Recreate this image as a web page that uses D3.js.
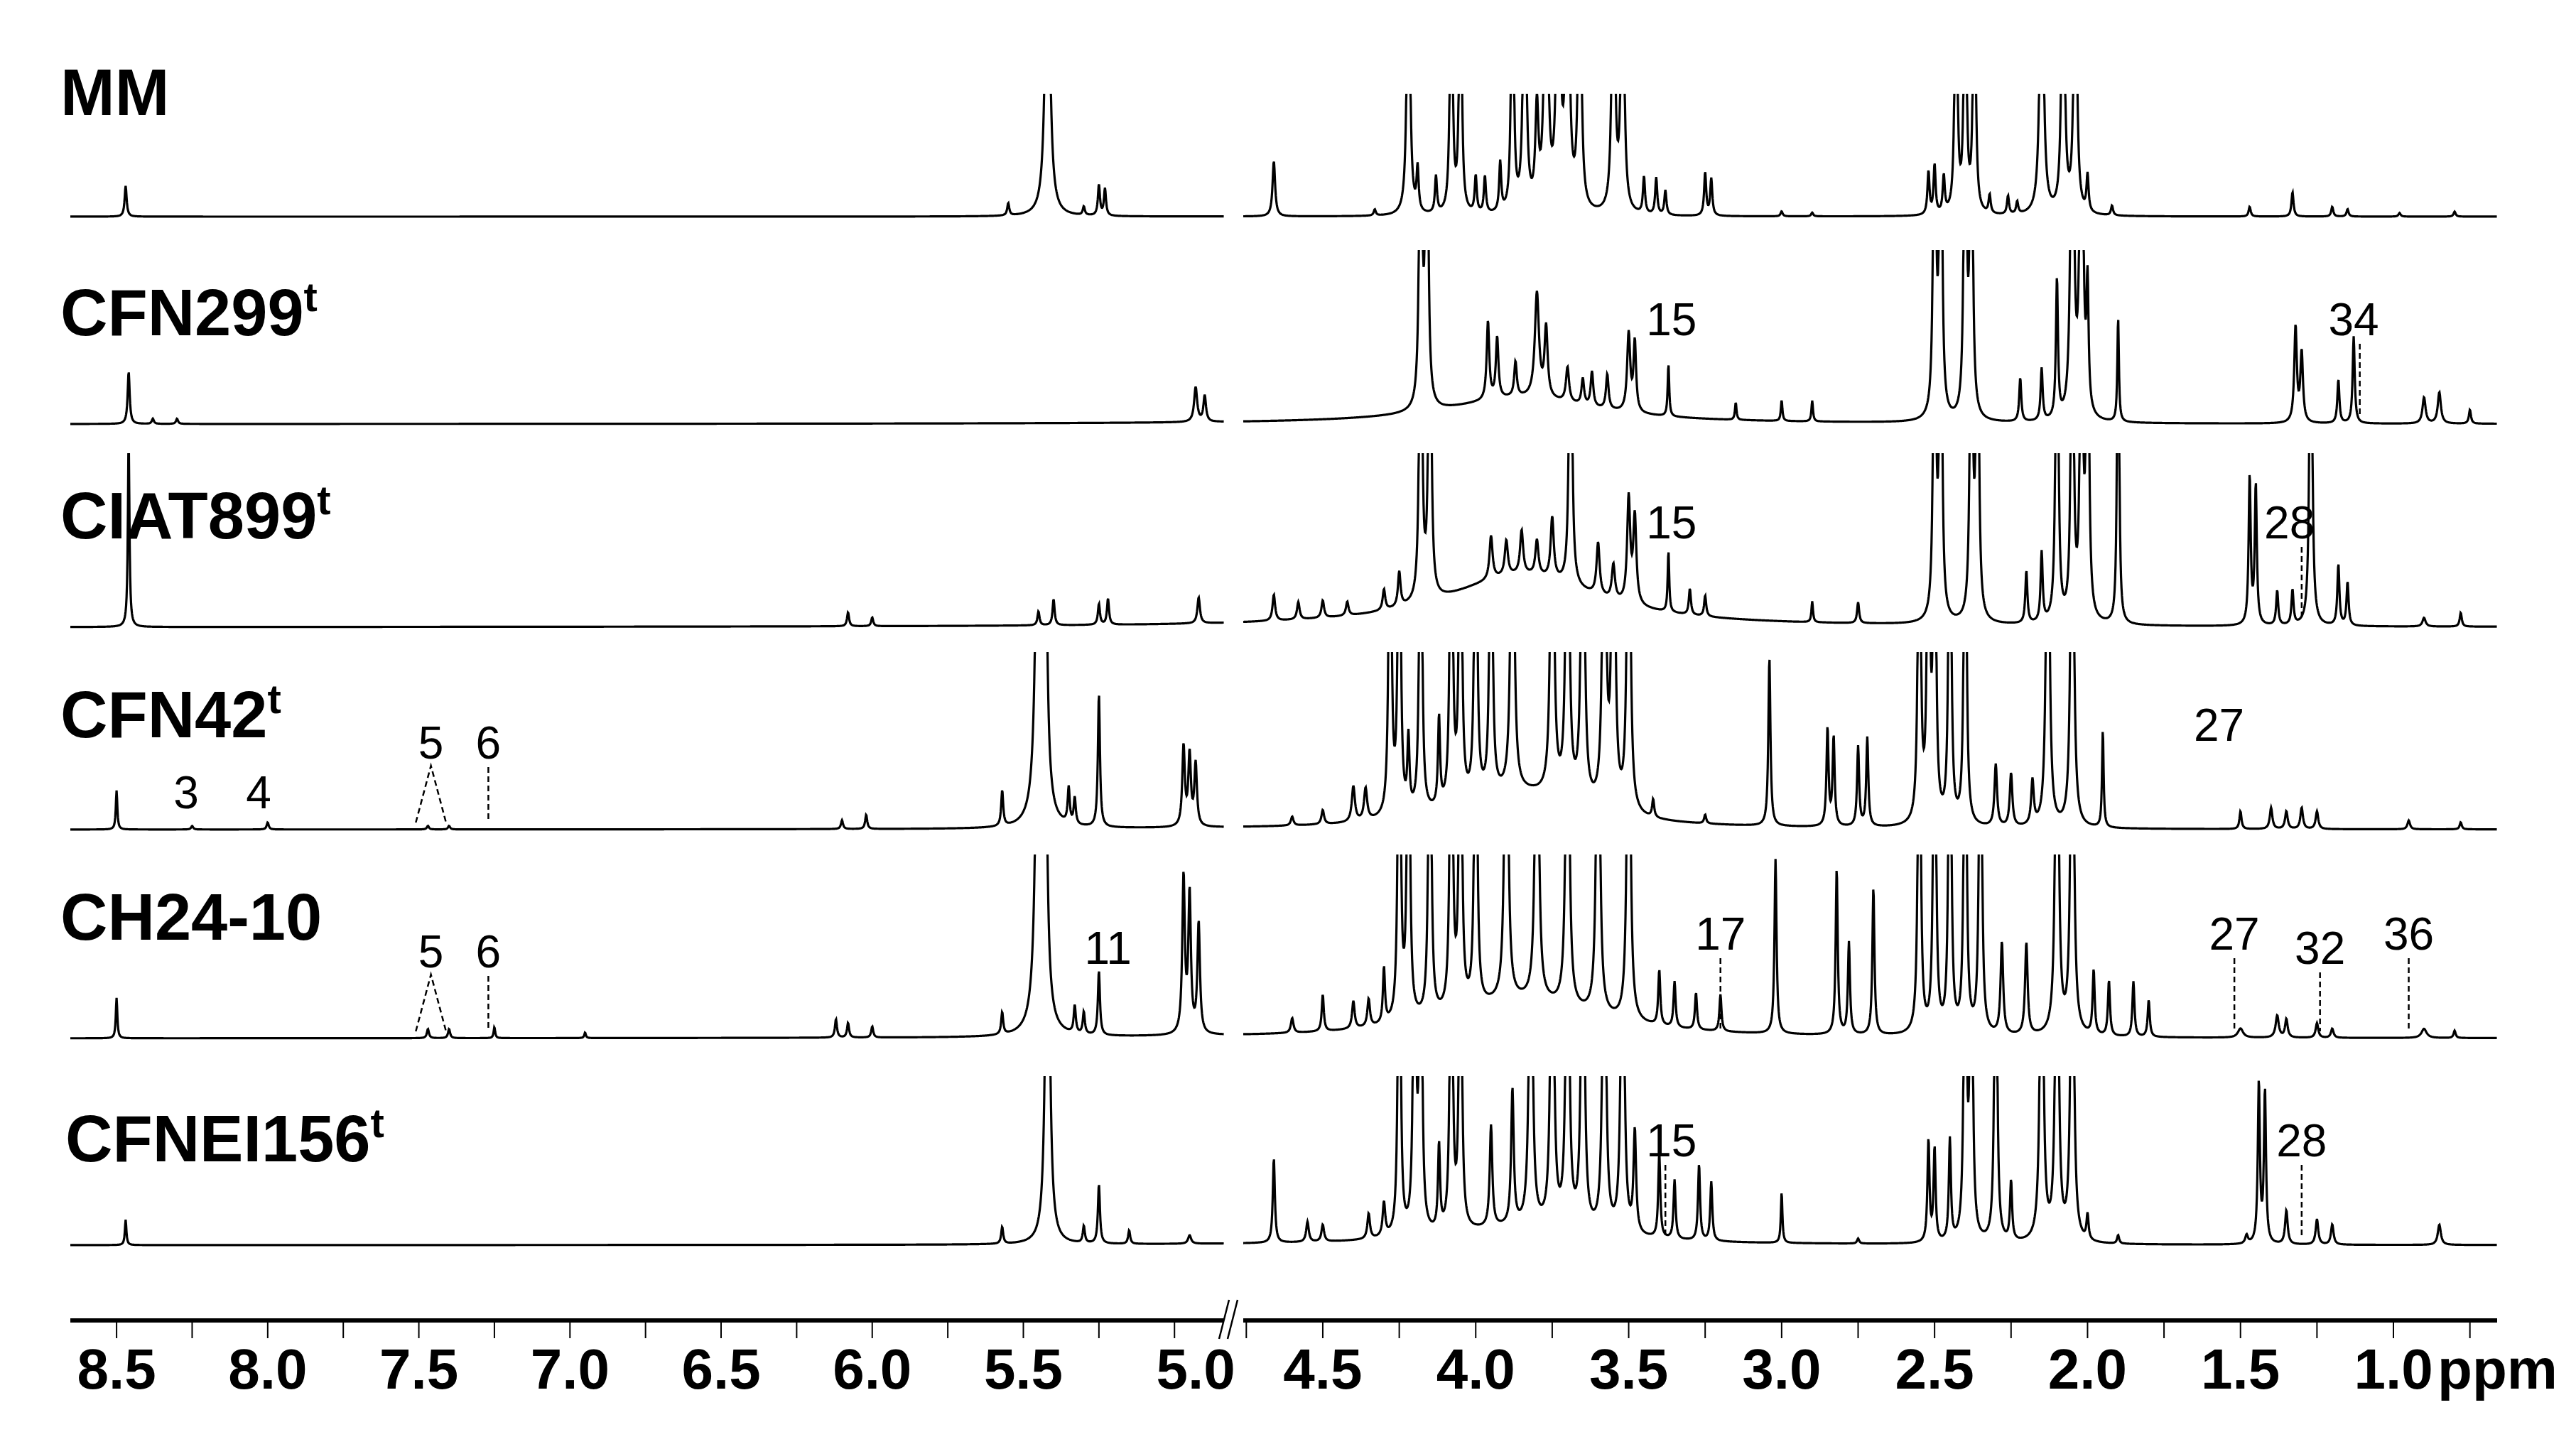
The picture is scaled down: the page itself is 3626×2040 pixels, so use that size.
<!DOCTYPE html><html><head><meta charset="utf-8">
<script src="https://cdn.jsdelivr.net/npm/d3@7"></script>
<style>body{margin:0;background:#fff}</style></head><body>
<svg id="c" width="3626" height="2040"></svg>
<script>
// ---- data ----
const samples = ["MM","CFN299","CIAT899","CFN42","CH24-10","CFNEI156"];
const superT = [false,true,true,true,false,true];
const tickLabels = ["8.5","8.0","7.5","7.0","6.5","6.0","5.5","5.0","4.5","4.0","3.5","3.0","2.5","2.0","1.5","1.0"];
// peaks: [ppm, height (1 = full row height, >1 clipped), half-width ppm]
const peaksMM = [[8.47,.25,.004],[5.55,.1,.004],[5.42,3,.008],[5.30,.07,.004],[5.25,.25,.004],[5.23,.22,.004],
 [4.66,.45,.005],[4.33,.05,.004],[4.22,3,.005],[4.19,.35,.004],[4.13,.3,.004],[4.08,3,.004],[4.05,3,.004],[4.0,.3,.004],[3.97,.3,.004],[3.92,.4,.004],
 [3.88,3,.004],[3.84,3,.005],[3.80,.8,.006],[3.77,3,.006],[3.73,3,.006],[3.70,3,.006],[3.66,3,.005],[3.55,3,.005],[3.52,3,.005],
 [3.45,.3,.004],[3.41,.3,.004],[3.38,.2,.004],[3.25,.35,.004],[3.23,.3,.004],[3.0,.04,.004],[2.90,.03,.004],
 [2.52,.35,.004],[2.50,.4,.004],[2.47,.3,.004],[2.43,3,.004],[2.40,3,.004],[2.37,3,.004],[2.32,.15,.004],[2.26,.15,.004],[2.23,.1,.004],
 [2.15,3,.006],[2.08,3,.005],[2.04,3,.005],[2.0,.3,.004],[1.92,.08,.004],[1.47,.08,.004],[1.33,.2,.004],[1.2,.08,.004],[1.15,.06,.004],[0.98,.03,.004],[0.80,.04,.004]];
const peaksCFN299 = [[8.46,.3,.004],[8.38,.03,.004],[8.3,.03,.004],[4.93,.2,.006],[4.90,.15,.005],
 [3.85,.15,.3],[4.18,3,.004],[4.16,3,.004],[3.96,.45,.005],[3.93,.35,.005],[3.87,.2,.005],[3.80,.6,.008],[3.77,.4,.006],[3.70,.2,.006],[3.65,.15,.005],[3.62,.2,.005],[3.57,.2,.005],
 [3.50,.45,.006],[3.48,.4,.005],[3.37,.3,.003],[3.15,.1,.003],[3.0,.12,.003],[2.90,.12,.003],
 [2.50,3,.004],[2.48,3,.004],[2.40,3,.004],[2.38,3,.004],[2.22,.25,.004],[2.15,.3,.004],[2.10,.8,.004],[2.05,3,.005],[2.02,3,.005],[2.0,.7,.004],[1.90,.6,.003],
 [1.32,.55,.005],[1.30,.4,.005],[1.18,.25,.004],[1.13,.5,.004],[0.90,.15,.006],[0.85,.18,.006],[0.75,.08,.004]];
const peaksCIAT899 = [[8.46,1.1,.003],[6.08,.08,.004],[6.0,.05,.004],[5.45,.08,.004],[5.40,.15,.004],[5.25,.12,.004],[5.22,.15,.004],[4.92,.15,.005],
 [3.85,.3,.3],[4.66,.15,.005],[4.58,.1,.005],[4.50,.1,.005],[4.42,.08,.005],[4.30,.12,.005],[4.25,.2,.005],[4.18,3,.004],[4.15,3,.004],
 [3.95,.25,.006],[3.90,.2,.006],[3.85,.25,.006],[3.80,.2,.006],[3.75,.35,.006],[3.69,3,.004],[3.60,.3,.006],[3.55,.2,.006],[3.50,.6,.006],[3.48,.5,.006],
 [3.37,.35,.003],[3.30,.15,.004],[3.25,.12,.004],[2.90,.12,.003],[2.75,.12,.004],
 [2.50,3,.004],[2.48,3,.004],[2.38,3,.004],[2.36,3,.004],[2.20,.3,.004],[2.15,.4,.004],[2.10,3,.004],[2.05,3,.004],[2.02,3,.004],[2.0,3,.004],[1.90,3,.003],
 [1.47,.85,.004],[1.45,.8,.004],[1.38,.2,.004],[1.33,.2,.004],[1.27,3,.004],[1.18,.35,.004],[1.15,.25,.004],[0.90,.05,.006],[0.78,.08,.004]];
const peaksCFN42 = [[8.50,.22,.003],[8.25,.02,.004],[8.0,.04,.004],[7.47,.02,.004],[7.40,.02,.004],[6.10,.05,.004],[6.02,.08,.004],
 [5.57,.2,.004],[5.45,3,.008],[5.43,3,.006],[5.35,.2,.004],[5.33,.15,.004],[5.25,.75,.004],[4.97,.45,.005],[4.95,.4,.005],[4.93,.35,.005],
 [3.85,.2,.25],[4.60,.05,.005],[4.50,.08,.005],[4.40,.2,.006],[4.36,.18,.006],[4.28,3,.004],[4.25,3,.004],[4.22,.4,.004],[4.18,3,.004],[4.12,.5,.004],[4.08,3,.004],[4.05,3,.004],
 [4.0,3,.004],[3.95,3,.004],[3.88,3,.005],[3.75,3,.005],[3.70,3,.005],[3.65,3,.005],[3.58,3,.005],[3.55,3,.005],[3.50,3,.005],[3.42,.1,.004],[3.25,.05,.004],
 [3.04,.95,.004],[2.85,.55,.004],[2.83,.5,.004],[2.75,.45,.004],[2.72,.5,.004],[2.55,3,.004],[2.52,3,.004],[2.50,3,.004],[2.45,3,.004],[2.40,3,.004],
 [2.30,.35,.005],[2.25,.3,.005],[2.18,.25,.005],[2.13,3,.005],[2.05,3,.005],[1.95,.55,.003],[1.50,.1,.004],[1.40,.12,.005],[1.35,.1,.005],[1.30,.12,.005],[1.25,.1,.005],[0.95,.05,.005],[0.78,.04,.004]];
const peaksCH24 = [[8.50,.22,.003],[7.47,.05,.004],[7.40,.05,.004],[7.25,.06,.003],[6.95,.03,.003],[6.12,.1,.004],[6.08,.08,.004],[6.0,.06,.004],
 [5.57,.12,.004],[5.45,3,.008],[5.43,3,.006],[5.33,.15,.004],[5.30,.12,.004],[5.25,.35,.004],[4.97,.85,.005],[4.95,.75,.005],[4.92,.6,.005],
 [3.85,.2,.3],[4.60,.08,.005],[4.50,.2,.004],[4.40,.15,.005],[4.35,.15,.005],[4.30,.3,.004],[4.25,3,.004],[4.22,3,.004],[4.15,3,.004],[4.08,3,.004],[4.05,3,.004],[4.0,3,.004],
 [3.90,3,.005],[3.80,3,.005],[3.70,3,.005],[3.60,3,.005],[3.50,3,.005],[3.40,.3,.004],[3.35,.25,.004],[3.28,.2,.004],[3.20,.2,.004],
 [3.02,.95,.004],[2.82,.9,.004],[2.78,.5,.004],[2.70,.8,.004],[2.55,3,.004],[2.50,3,.004],[2.45,3,.004],[2.40,3,.004],[2.35,3,.004],[2.28,.5,.005],[2.20,.5,.005],
 [2.10,3,.005],[2.05,3,.005],[1.98,.35,.004],[1.93,.3,.004],[1.85,.3,.004],[1.80,.2,.004],[1.50,.05,.01],[1.38,.12,.006],[1.35,.1,.005],[1.25,.08,.005],[1.20,.05,.005],[0.90,.05,.01],[0.80,.04,.004]];
const peaksCFNEI = [[8.47,.15,.003],[5.57,.1,.004],[5.42,3,.007],[5.30,.1,.004],[5.25,.35,.004],[5.15,.08,.004],[4.95,.05,.006],
 [3.85,.1,.3],[4.66,.5,.004],[4.55,.12,.005],[4.50,.1,.005],[4.35,.15,.005],[4.30,.2,.005],[4.25,3,.004],[4.20,3,.004],[4.18,3,.004],[4.12,.5,.004],[4.08,3,.004],[4.05,3,.004],
 [3.95,.6,.005],[3.88,.8,.005],[3.82,3,.005],[3.75,3,.005],[3.70,3,.005],[3.65,3,.005],[3.58,3,.005],[3.52,3,.005],[3.48,.6,.005],[3.40,.5,.004],[3.35,.35,.004],
 [3.27,.45,.004],[3.23,.35,.004],[3.0,.3,.003],[2.75,.03,.004],[2.52,.6,.004],[2.50,.55,.004],[2.45,.6,.004],[2.40,3,.004],[2.38,3,.004],[2.30,3,.004],[2.25,.35,.004],
 [2.15,3,.005],[2.10,3,.005],[2.05,3,.005],[2.0,.15,.004],[1.90,.05,.004],[1.48,.05,.005],[1.44,.95,.004],[1.42,.9,.004],[1.35,.2,.005],[1.25,.15,.005],[1.20,.12,.005],[0.85,.12,.006]];
const allPeaks = [peaksMM,peaksCFN299,peaksCIAT899,peaksCFN42,peaksCH24,peaksCFNEI];
// annotations: [row, label, ppm of label, ppm of dashed line or null]
const annotations = [[1,"15",3.36,null],[1,"34",1.13,1.11],[2,"15",3.36,null],[2,"28",1.34,1.30],
 [3,"3",8.27,null],[3,"4",8.03,null],[3,"5",7.46,"V"],[3,"6",7.27,7.27],[3,"27",1.57,null],
 [4,"5",7.46,"V"],[4,"6",7.27,7.27],[4,"11",5.22,null],[4,"17",3.20,3.20],[4,"27",1.52,1.52],[4,"32",1.24,1.24],[4,"36",0.95,0.95],
 [5,"15",3.36,3.38],[5,"28",1.30,1.30]];

// ---- layout ----
const svg = d3.select("#c");
const xL = d3.scaleLinear().domain([8.653,4.836]).range([99,1723]);
const xR = d3.scaleLinear().domain([4.76,0.661]).range([1750,3515]);
const bases = [305,597,883,1168,1462,1753], tops=[132,352,638,918,1203,1515];
const cond = "'Liberation Sans Narrow','Arial Narrow','Liberation Sans',sans-serif";

samples.forEach((name,i)=>{
  const H = bases[i]-tops[i];
  const y = d3.scaleLinear().domain([0,1]).range([bases[i],tops[i]]);
  svg.append("clipPath").attr("id","cl"+i).append("rect").attr("x",0).attr("y",tops[i]).attr("width",3626).attr("height",H+20);
  const g = svg.append("g").attr("clip-path",`url(#cl${i})`);
  [xL,xR].forEach(x=>{
    const d0=x.domain();
    const pts=d3.range(d0[0],d0[1],-0.0015).map(p=>{
      let v=0; for(const [c,h,w] of allPeaks[i]) v+=h*w*w/((p-c)*(p-c)+w*w);
      return [p,Math.min(v,1.05)];
    });
    g.append("path").datum(pts).attr("fill","none").attr("stroke","#000").attr("stroke-width",3.2)
     .attr("d",d3.line().x(d=>x(d[0])).y(d=>y(d[1])));
  });
  const t = svg.append("text").attr("x",i==5?92:85).attr("y",tops[i]+ (i==0?30:120)).attr("font-family",cond)
   .attr("font-weight","bold").attr("font-size",92).text(name);
  if(superT[i]) t.append("tspan").attr("font-size",58).attr("dy",-34).text("t");
});

annotations.forEach(([r,lab,p,dl])=>{
  const x = p>4.8?xL:xR;
  const yb = bases[r]-(r===3&&(lab==="3"||lab==="4")?30:(lab==="5"||lab==="6"?100:(["15","28","34","17","27","36"].includes(lab)?125:105)));
  svg.append("text").attr("x",x(p)).attr("y",yb).attr("text-anchor","middle").attr("font-family","'Liberation Sans',Arial,sans-serif")
   .attr("font-size",64).text(lab);
  if(dl==="V"){
    svg.append("path").attr("d",`M${x(p+0.05)},${bases[r]-10}L${x(p)},${yb+10}L${x(p-0.05)},${bases[r]-10}`)
     .attr("fill","none").attr("stroke","#000").attr("stroke-width",2.5).attr("stroke-dasharray","8,5");
  } else if(dl!==null){
    svg.append("line").attr("x1",x(dl)).attr("x2",x(dl)).attr("y1",yb+12).attr("y2",bases[r]-10)
     .attr("stroke","#000").attr("stroke-width",2.5).attr("stroke-dasharray","8,5");
  }
});

// ---- axis ----
const ay=1859;
[[xL,[8.5,4.875]],[xR,[4.75,0.75]]].forEach(([x,[a,b]])=>{
  const r=x.range();
  svg.append("line").attr("x1",r[0]).attr("x2",r[1]).attr("y1",ay).attr("y2",ay).attr("stroke","#000").attr("stroke-width",6);
  const ticks=d3.range(a,b-0.01,-0.25);
  svg.selectAll(null).data(ticks).enter().append("line").attr("x1",d=>x(d)).attr("x2",d=>x(d)).attr("y1",ay).attr("y2",ay+25).attr("stroke","#000").attr("stroke-width",2);
});
svg.selectAll(null).data(tickLabels).enter().append("text")
 .attr("x",d=>(+d>4.8?xL(+d):xR(+d))+(+d===5?30:0)).attr("y",1955).attr("text-anchor","middle")
 .attr("font-family",cond).attr("font-weight","bold").attr("font-size",80).text(d=>d);
svg.append("text").attr("x",xR(1.0)+62).attr("y",1955).attr("font-family",cond).attr("font-weight","bold").attr("font-size",80).text("ppm");
svg.append("path").attr("d","M1716,1885L1730,1830M1728,1885L1742,1830").attr("stroke","#000").attr("stroke-width",2.5);
</script></body></html>
